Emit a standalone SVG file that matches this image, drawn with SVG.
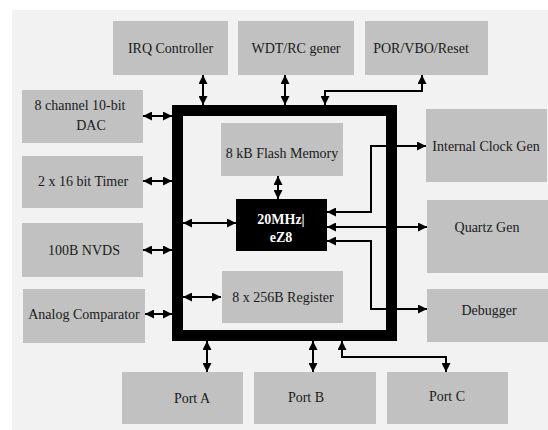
<svg xmlns="http://www.w3.org/2000/svg" width="548" height="430" viewBox="0 0 548 430">
<style>
.box{fill:#c1c1c1}
.t{font-size:14px;fill:#1a1a1a;text-anchor:middle}
.w{font-size:14px;font-weight:bold;fill:#ffffff;text-anchor:middle}
.c{fill:none;stroke:#000;stroke-width:2;marker-start:url(#ah);marker-end:url(#ah)}
</style>
<defs>
<marker id="ah" markerUnits="userSpaceOnUse" markerWidth="9" markerHeight="9" refX="9" refY="4.5" orient="auto-start-reverse" viewBox="0 0 9 9">
<path d="M0,0 L9,4.5 L0,9 z" fill="#000"/>
</marker>
</defs>
<rect x="0" y="0" width="548" height="430" fill="#ffffff"/>
<rect x="12" y="10" width="536" height="420" fill="#f2f2f2"/>

<g id="connectors">
<path class="c" d="M203,75 V105"/>
<path class="c" d="M285,75 V105"/>
<path class="c" d="M422,75 V91 H325 V105"/>
<path class="c" d="M143,116 H172"/>
<path class="c" d="M143,181 H172"/>
<path class="c" d="M143,250 H172"/>
<path class="c" d="M145,314 H172"/>
<path class="c" d="M207,341 V372"/>
<path class="c" d="M313,341 V372"/>
<path class="c" d="M342,341 V357 H446 V372"/>
<path class="c" d="M327,212 H371 V146 H426"/>
<path class="c" d="M327,227 H427"/>
<path class="c" d="M327,241 H371 V309 H427"/>
<path class="c" d="M278,176 V199"/>
<path class="c" d="M183,223 H236"/>
<path class="c" d="M183,297 H221"/>
</g>

<g id="frame">
<rect x="177.5" y="110.5" width="214" height="225" fill="none" stroke="#000" stroke-width="11"/>
</g>

<g font-family="Liberation Serif, serif">
<g id="irq"><rect class="box" x="113" y="21" width="115" height="54"/><text class="t" x="170.5" y="53">IRQ Controller</text></g>
<g id="wdt"><rect class="box" x="238" y="21" width="116" height="54"/><text class="t" x="296" y="53">WDT/RC gener</text></g>
<g id="por"><rect class="box" x="365" y="21" width="123" height="54"/><text class="t" x="421" y="53">POR/VBO/Reset</text></g>
<g id="dac"><rect class="box" x="22" y="90" width="121" height="53"/><text class="t" x="80" y="110">8 channel 10-bit</text><text class="t" x="91" y="130">DAC</text></g>
<g id="timer"><rect class="box" x="22" y="156" width="121" height="52"/><text class="t" x="83" y="186">2 x 16 bit Timer</text></g>
<g id="nvds"><rect class="box" x="22" y="223" width="121" height="54"/><text class="t" x="84" y="255">100B NVDS</text></g>
<g id="comp"><rect class="box" x="23" y="289" width="122" height="54"/><text class="t" x="84" y="319">Analog Comparator</text></g>
<g id="flash"><rect class="box" x="221" y="123" width="122" height="53"/><text class="t" x="282" y="158">8 kB Flash Memory</text></g>
<g id="ez8"><rect x="236" y="199" width="91" height="52" fill="#000"/><text class="w" x="281" y="224">20MHz|</text><text class="w" x="281" y="242">eZ8</text></g>
<g id="reg"><rect class="box" x="222" y="271" width="121" height="52"/><text class="t" x="283" y="302">8 x 256B Register</text></g>
<g id="clk"><rect class="box" x="426" y="109" width="121" height="73"/><text class="t" x="486" y="151">Internal Clock Gen</text></g>
<g id="quartz"><rect class="box" x="427" y="200" width="121" height="73"/><text class="t" x="487" y="232">Quartz Gen</text></g>
<g id="dbg"><rect class="box" x="427" y="289" width="121" height="53"/><text class="t" x="489" y="315">Debugger</text></g>
<g id="porta"><rect class="box" x="122" y="372" width="121" height="52"/><text class="t" x="192" y="403">Port A</text></g>
<g id="portb"><rect class="box" x="254" y="372" width="122" height="52"/><text class="t" x="306" y="402">Port B</text></g>
<g id="portc"><rect class="box" x="387" y="372" width="121" height="52"/><text class="t" x="447" y="401">Port C</text></g>
</g>
</svg>
